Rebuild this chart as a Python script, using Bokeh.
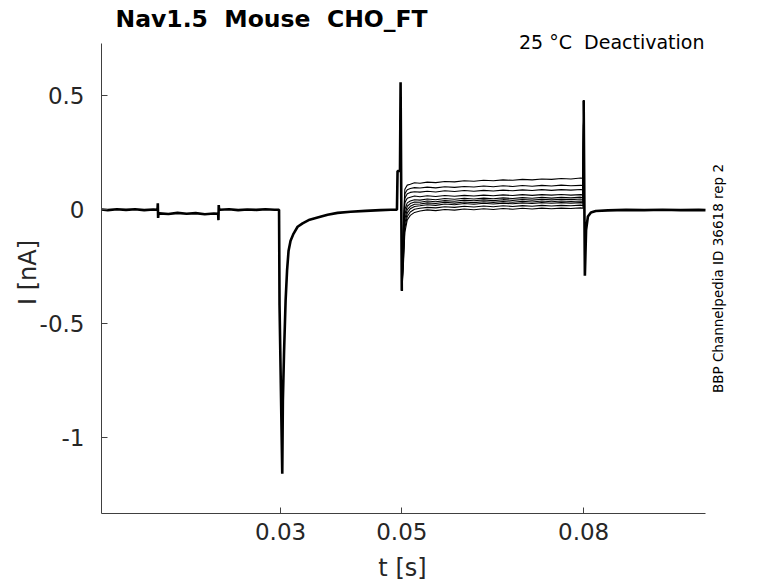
import math
from bokeh.plotting import figure
from bokeh.models import Range1d, FixedTicker, Label, CustomJSTickFormatter
from bokeh.embed import file_html
from bokeh.resources import INLINE

# ---------------- data (time in s, current in nA) ----------------
X_START, X_END = 0.00046, 0.1001
Y_START, Y_END = -1.3345, 0.730

x_ticks = [0.03, 0.05, 0.08]
x_tick_labels = ["0.03", "0.05", "0.08"]
y_ticks = [-1.0, -0.5, 0.0, 0.5]
y_tick_labels = ["-1", "-0.5", "0", "0.5"]

# common part of all sweeps: holding, small steps, activation transient, pre-step
t_pre = [0.00046, 0.0015, 0.003, 0.0045, 0.006, 0.0075, 0.0090, 0.0097, 0.00975, 0.0098,
         0.00985, 0.0100, 0.0115, 0.013, 0.0145, 0.016, 0.0175, 0.0190, 0.0197, 0.01975,
         0.0198, 0.01985, 0.0200, 0.0215, 0.023, 0.0245, 0.026, 0.0275, 0.0290, 0.02975,
         0.02983, 0.03028, 0.03038, 0.03058, 0.03083, 0.03107, 0.03132, 0.03165, 0.03215,
         0.03281, 0.03363, 0.03479, 0.03611, 0.03776, 0.03941, 0.04155, 0.0440, 0.0465,
         0.0482, 0.0492, 0.04930, 0.04970, 0.04980, 0.04990, 0.05000]
i_pre = [0.001, -0.002, 0.002, -0.001, 0.002, -0.002, 0.001, 0.0, 0.028, -0.036,
         -0.018, -0.016, -0.019, -0.014, -0.018, -0.015, -0.020, -0.017, -0.018, -0.046,
         0.020, 0.004, 0.0, 0.002, -0.002, 0.001, -0.001, 0.002, 0.0, 0.0,
         -0.42, -1.16, -0.84, -0.62, -0.40, -0.268, -0.18, -0.136, -0.105,
         -0.075, -0.060, -0.044, -0.034, -0.022, -0.014, -0.009, -0.005, -0.002,
         0.0, 0.0, 0.17, 0.17, 0.56, 0.10, -0.356]

# test-pulse segment, one row per sweep
t_test = [0.0502, 0.0505, 0.0509, 0.0514, 0.0521, 0.0530, 0.0542, 0.0556, 0.0571, 0.0587,
          0.0603, 0.0619, 0.0635, 0.0651, 0.0667, 0.0683, 0.0699, 0.0715, 0.0731, 0.0747,
          0.0763, 0.0779, 0.0795, 0.0799]
sweep_1 = [-0.10, 0.090, 0.108, 0.112, 0.118, 0.116, 0.121, 0.119, 0.124, 0.122, 0.127, 0.125,
           0.129, 0.127, 0.131, 0.129, 0.133, 0.131, 0.135, 0.133, 0.137, 0.135, 0.139, 0.138]
sweep_2 = [-0.12, 0.070, 0.088, 0.093, 0.097, 0.095, 0.099, 0.096, 0.101, 0.098, 0.102, 0.100,
           0.104, 0.101, 0.105, 0.102, 0.106, 0.103, 0.107, 0.104, 0.108, 0.105, 0.107, 0.106]
sweep_3 = [-0.14, 0.050, 0.070, 0.076, 0.079, 0.077, 0.081, 0.078, 0.083, 0.080, 0.084, 0.081,
           0.085, 0.082, 0.086, 0.083, 0.087, 0.084, 0.088, 0.085, 0.088, 0.086, 0.089, 0.087]
sweep_4 = [-0.16, 0.030, 0.050, 0.055, 0.060, 0.057, 0.061, 0.058, 0.062, 0.059, 0.063, 0.060,
           0.064, 0.061, 0.065, 0.062, 0.066, 0.063, 0.066, 0.064, 0.067, 0.064, 0.066, 0.065]
sweep_5 = [-0.18, 0.000, 0.030, 0.038, 0.044, 0.042, 0.047, 0.044, 0.049, 0.046, 0.050, 0.047,
           0.051, 0.048, 0.052, 0.049, 0.053, 0.050, 0.054, 0.051, 0.054, 0.052, 0.055, 0.053]
sweep_6 = [-0.20, -0.020, 0.015, 0.027, 0.034, 0.033, 0.038, 0.035, 0.040, 0.037, 0.042, 0.039,
           0.043, 0.040, 0.044, 0.041, 0.045, 0.042, 0.046, 0.043, 0.046, 0.044, 0.047, 0.045]
sweep_7 = [-0.22, -0.040, 0.000, 0.015, 0.024, 0.025, 0.030, 0.027, 0.033, 0.029, 0.034, 0.031,
           0.035, 0.032, 0.036, 0.033, 0.037, 0.034, 0.038, 0.035, 0.038, 0.036, 0.038, 0.037]
sweep_8 = [-0.24, -0.060, -0.015, 0.004, 0.014, 0.017, 0.022, 0.019, 0.025, 0.022, 0.027, 0.024,
           0.028, 0.025, 0.029, 0.026, 0.030, 0.027, 0.031, 0.028, 0.031, 0.029, 0.031, 0.030]
sweep_9 = [-0.26, -0.080, -0.030, -0.010, 0.002, 0.006, 0.010, 0.008, 0.013, 0.010, 0.015, 0.012,
           0.016, 0.013, 0.017, 0.014, 0.018, 0.015, 0.019, 0.016, 0.019, 0.017, 0.020, 0.018]
sweep_10 = [-0.28, -0.100, -0.045, -0.025, -0.012, -0.006, -0.001, -0.004, 0.001, -0.002, 0.003, 0.000,
            0.004, 0.001, 0.005, 0.002, 0.006, 0.003, 0.007, 0.004, 0.007, 0.005, 0.008, 0.006]
sweeps = [sweep_1, sweep_2, sweep_3, sweep_4, sweep_5, sweep_6, sweep_7, sweep_8, sweep_9, sweep_10]

# common tail after the test pulse
t_post = [0.0800, 0.0802, 0.0804, 0.0807, 0.0812, 0.0820, 0.0840, 0.0870, 0.0900, 0.0930,
          0.0960, 0.0990, 0.1001]
i_post = [0.48, -0.29, -0.09, -0.03, -0.012, -0.006, -0.003, -0.001, -0.002, 0.0,
          -0.002, -0.001, -0.002]

NB = "\u00a0"
TITLE = "Nav1.5" + NB + " Mouse" + NB + " CHO_FT"
SUBTITLE = "25 °C" + NB + " Deactivation"
SIDE_TEXT = "BBP Channelpedia ID 36618 rep 2"
X_LABEL = "t [s]"
Y_LABEL = "I [nA]"

# ---------------- layout ----------------
W, H = 778, 583
AX_L, AX_R, AX_T, AX_B = 101, 705, 43, 513      # axes box in page pixels
ppx = (AX_R - AX_L) / (X_END - X_START)
ppy = (AX_B - AX_T) / (Y_END - Y_START)
xr = Range1d(X_START - AX_L / ppx, X_START + (W - AX_L) / ppx)
yr = Range1d(Y_START - (H - AX_B) / ppy, Y_START + AX_B / ppy)

FONT = "DejaVu Sans"
TXT = "#262626"
AX = "#404040"

p = figure(width=W, height=H, output_backend="svg", toolbar_location=None,
           x_range=xr, y_range=yr,
           min_border_left=0, min_border_right=0, min_border_top=0, min_border_bottom=0)
p.outline_line_color = None
p.xgrid.visible = False
p.ygrid.visible = False
p.background_fill_color = "white"
p.border_fill_color = "white"

fmt_code = "const i = tl.indexOf(tick); return i >= 0 ? lb[i] : tick.toString();"
p.xaxis.ticker = FixedTicker(ticks=x_ticks)
p.xaxis.formatter = CustomJSTickFormatter(args=dict(tl=x_ticks, lb=x_tick_labels), code=fmt_code)
p.yaxis.ticker = FixedTicker(ticks=y_ticks)
p.yaxis.formatter = CustomJSTickFormatter(args=dict(tl=y_ticks, lb=y_tick_labels), code=fmt_code)
p.xaxis.fixed_location = Y_START
p.yaxis.fixed_location = X_START
p.xaxis.bounds = (X_START, X_END)
p.yaxis.bounds = (Y_START, Y_END)

for ax in (p.xaxis[0], p.yaxis[0]):
    ax.axis_line_color = AX
    ax.axis_line_width = 1
    ax.major_tick_line_color = AX
    ax.major_tick_in = 6
    ax.major_tick_out = 0
    ax.minor_tick_line_color = None
    ax.major_label_text_font = FONT
    ax.major_label_text_font_size = "23px"
    ax.major_label_text_color = TXT
p.xaxis.major_label_standoff = 9
p.yaxis.major_label_standoff = 17

# traces
p.line(t_pre, i_pre, line_color="black", line_width=2.6)
for s in sweeps:
    p.line([t_pre[-1]] + t_test + [t_post[0]], [i_pre[-1]] + s + [i_post[0]],
           line_color="black", line_width=1.1)
p.line(t_post, i_post, line_color="black", line_width=2.6)

# texts (screen units: page pixels from the bottom-left corner)
def lab(text, x, y, size, **kw):
    p.add_layout(Label(x=x, y=H - y, x_units="screen", y_units="screen", text=text,
                       text_font=FONT, text_font_size=size, text_baseline="middle", **kw))

lab(TITLE, 115, 18.5, "23.5px", text_font_style="bold", text_color="black", text_align="left")
lab(SUBTITLE, 704, 41, "19px", text_color="black", text_align="right")
lab(SIDE_TEXT, 717, 278, "13.5px", text_color="black", text_align="center", angle=math.pi / 2)
lab(X_LABEL, 402, 567, "24px", text_color=TXT, text_align="center")
lab(Y_LABEL, 27, 272, "24px", text_color=TXT, text_align="center", angle=math.pi / 2)

open("out.html", "w").write(file_html(p, INLINE))
